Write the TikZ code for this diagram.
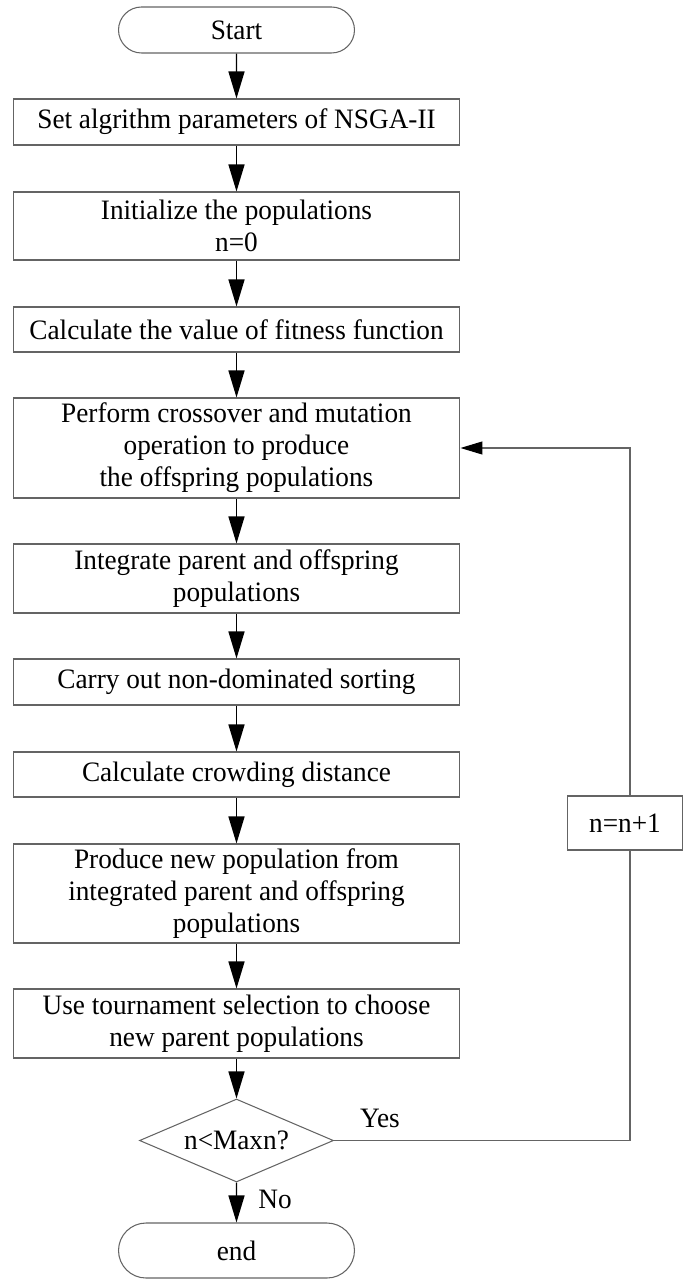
\documentclass[tikz,border=0pt]{standalone}
\usepackage{fontspec}
\setmainfont{Liberation Serif}[FakeStretch=0.97]
\usetikzlibrary{shapes, arrows.meta}

\begin{document}
\begin{tikzpicture}[x=0.02cm,y=-0.02cm,
	every node/.style={font=\fontsize{16pt}{18.2pt}\selectfont},
	box/.style={draw=mycolor,line width=0.6pt,minimum width=8.94cm,align=center,inner sep=0pt},
	term/.style={draw=mycolor,line width=0.6pt,rounded rectangle,minimum width=4.72cm,inner sep=0pt},
	flow/.style={-{Triangle[length=0.54cm,width=0.32cm]},line width=0.8pt},
	back/.style={draw=mycolor,line width=0.6pt}]
	\definecolor{mycolor}{RGB}{100,100,100}
	\useasboundingbox (0,0) rectangle (683,1280);
	
	\node[term,minimum height=0.92cm] (start) at (236.5,30) {Start};
	\node[box,minimum height=0.92cm] (b1) at (236.5,122) {Set algrithm parameters of NSGA-II};
	\node[box,minimum height=1.36cm] (b2) at (236.5,226) {Initialize the populations\\n=0};
	\node[box,minimum height=0.9cm] (b3) at (236.5,329.5) {Calculate the value of fitness function};
	\node[box,minimum height=2.0cm] (b4) at (236.5,448) {Perform crossover and mutation\\operation to produce\\the offspring populations};
	\node[box,minimum height=1.38cm] (b5) at (236.5,578.5) {Integrate parent and offspring\\populations};
	\node[box,minimum height=0.92cm] (b6) at (236.5,682) {Carry out non-dominated sorting};
	\node[box,minimum height=0.9cm] (b7) at (236.5,774.5) {Calculate crowding distance};
	\node[box,minimum height=1.98cm] (b8) at (236.5,893.5) {Produce new population from\\integrated parent and offspring\\populations};
	\node[box,minimum height=1.38cm] (b9) at (236.5,1023.5) {Use tournament selection to choose\\new parent populations};
	\node[draw=mycolor,line width=0.6pt,diamond,aspect=2.34,inner sep=0pt,minimum width=3.88cm,minimum height=1.66cm] (dec) at (236.5,1140.5) {n<Maxn?};
	\node[term,minimum height=1.1cm] (end) at (236.5,1250.5) {end};
	\node[box,minimum width=2.3cm,minimum height=1.08cm] (inc) at (625,823) {n=n+1};
	
	\node (yes) at (380,1118) {Yes};
	\node (no) at (275,1199) {No};
	
	\draw[flow] (start) -- (b1);
	\draw[flow] (b1) -- (b2);
	\draw[flow] (b2) -- (b3);
	\draw[flow] (b3) -- (b4);
	\draw[flow] (b4) -- (b5);
	\draw[flow] (b5) -- (b6);
	\draw[flow] (b6) -- (b7);
	\draw[flow] (b7) -- (b8);
	\draw[flow] (b8) -- (b9);
	\draw[flow] (b9) -- (dec);
	\draw[flow] (dec) -- (end);
	
	\coordinate (c1) at (630,1140.5);
	\coordinate (c2) at (630,448);
	\draw[back] (dec.east) -- (c1) -- (c1 |- inc.south);
	\draw[back,-{Triangle[length=0.44cm,width=0.26cm,color=black]}] (c1 |- inc.north) -- (c2) -- (b4.east);
	
\end{tikzpicture}
\end{document}
